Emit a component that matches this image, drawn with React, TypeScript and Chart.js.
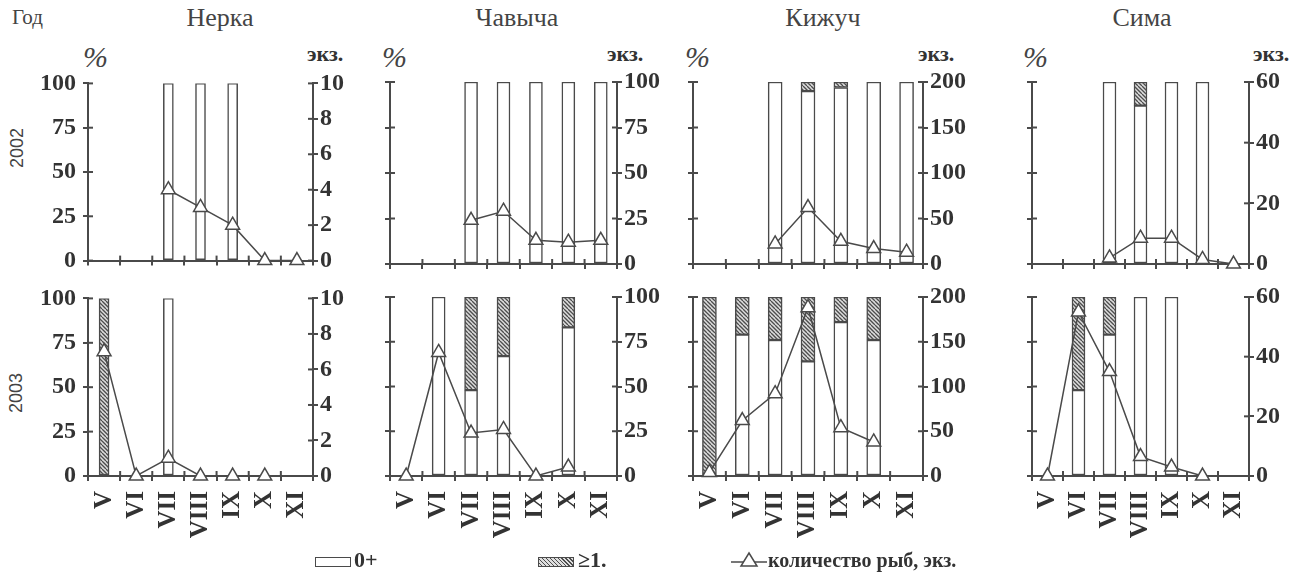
import React, { useEffect, useRef } from 'react';
import { Chart, registerables } from 'chart.js';

Chart.register(...registerables);

// ---------- data ----------
const months = ['V', 'VI', 'VII', 'VIII', 'IX', 'X', 'XI'];

const leftTicks = [0, 25, 50, 75, 100];

// Нерка
const nerka2002Young = [null, null, 100, 100, 100, null, null];
const nerka2002Old = [null, null, null, null, null, null, null];
const nerka2002Count = [null, null, 4, 3, 2, 0, 0];
const nerka2003Young = [null, null, 100, null, null, null, null];
const nerka2003Old = [100, null, null, null, null, null, null];
const nerka2003Count = [7, 0, 1, 0, 0, 0, null];

// Чавыча
const chav2002Young = [null, null, 100, 100, 100, 100, 100];
const chav2002Old = [null, null, null, null, null, null, null];
const chav2002Count = [null, null, 24, 29, 13, 12, 13];
const chav2003Young = [null, 100, 48, 67, null, 83, null];
const chav2003Old = [null, null, 52, 33, null, 17, null];
const chav2003Count = [0, 69, 24, 26, 0, 5, null];

// Кижуч
const kiz2002Young = [null, null, 100, 95, 97, 100, 100];
const kiz2002Old = [null, null, null, 5, 3, null, null];
const kiz2002Count = [null, null, 22, 62, 25, 17, 13];
const kiz2003Young = [null, 79, 76, 64, 86, 76, null];
const kiz2003Old = [100, 21, 24, 36, 14, 24, null];
const kiz2003Count = [4, 62, 92, 188, 54, 38, null];

// Сима
const sima2002Young = [null, null, 100, 87, 100, 100, null];
const sima2002Old = [null, null, null, 13, null, null, null];
const sima2002Count = [null, null, 2, 8.5, 8.5, 1.5, 0];
const sima2003Young = [null, 48, 79, 100, 100, null, null];
const sima2003Old = [null, 52, 21, null, null, null, null];
const sima2003Count = [0, 55, 35, 6.5, 3, 0, null];

const speciesNames = ['Нерка', 'Чавыча', 'Кижуч', 'Сима'];
const countMax = [10, 100, 200, 60];
const countStep = [2, 25, 50, 20];
const yearLabels = ['2002', '2003'];

// ---------- layout / style ----------
const AXIS = '#4a4a4a';
const TEXT = '#333';
const SERIF = '"Liberation Serif", "Times New Roman", serif';
const SANS = '"Liberation Sans", Arial, sans-serif';

const panelX = [
  { lx: 88, rx: 313, bar: 10 },
  { lx: 390, rx: 617, bar: 13 },
  { lx: 693, rx: 923, bar: 14 },
  { lx: 1032, rx: 1249, bar: 13 },
];
const rowY = [
  { top: 82, bottom: 264, xh: 18 },
  { top: 297, bottom: 476, xh: 69 },
];
const LEFT_W = 70;
const RIGHT_W = 60;
const PAD_TOP = 20;

const series = [
  [
    [nerka2002Young, nerka2002Old, nerka2002Count],
    [nerka2003Young, nerka2003Old, nerka2003Count],
  ],
  [
    [chav2002Young, chav2002Old, chav2002Count],
    [chav2003Young, chav2003Old, chav2003Count],
  ],
  [
    [kiz2002Young, kiz2002Old, kiz2002Count],
    [kiz2003Young, kiz2003Old, kiz2003Count],
  ],
  [
    [sima2002Young, sima2002Old, sima2002Count],
    [sima2003Young, sima2003Old, sima2003Count],
  ],
];

function makeHatch(): CanvasPattern | string {
  const c = document.createElement('canvas');
  c.width = 8;
  c.height = 8;
  const g = c.getContext('2d');
  if (!g) return '#999';
  g.fillStyle = '#dedede';
  g.fillRect(0, 0, 8, 8);
  g.strokeStyle = '#4d4d4d';
  g.lineWidth = 1.3;
  for (const o of [-8, -4, 0, 4, 8]) {
    g.beginPath();
    g.moveTo(o, 0);
    g.lineTo(o + 8, 8);
    g.stroke();
  }
  const p = g.createPattern(c, 'repeat');
  return p || '#999';
}

const innerTicks = {
  id: 'innerTicks',
  afterDatasetsDraw(chart: any) {
    const { ctx, chartArea: a, scales } = chart;
    const len = 5;
    ctx.save();
    ctx.strokeStyle = AXIS;
    ctx.lineWidth = 2;
    const seg = (x1: number, y1: number, x2: number, y2: number) => {
      ctx.beginPath();
      ctx.moveTo(x1, y1);
      ctx.lineTo(x2, y2);
      ctx.stroke();
    };
    const y = scales.y;
    y.ticks.forEach((t: any) => {
      const py = y.getPixelForValue(t.value);
      seg(a.left, py, a.left + len, py);
    });
    const y1 = scales.y1;
    y1.ticks.forEach((t: any) => {
      const py = y1.getPixelForValue(t.value);
      seg(a.right - len, py, a.right, py);
    });
    const x = scales.x;
    for (let i = 0; i <= months.length; i++) {
      const px = x.getPixelForValue(i - 0.5);
      seg(px, a.bottom - len, px, a.bottom);
    }
    ctx.restore();
  },
};

function PanelChart({ p, r }: { p: number; r: number }) {
  const ref = useRef<HTMLCanvasElement | null>(null);
  const px = panelX[p];
  const ry = rowY[r];
  const left = px.lx - LEFT_W;
  const width = px.rx - px.lx + LEFT_W + RIGHT_W;
  const top = ry.top - PAD_TOP;
  const height = ry.bottom + ry.xh - top;

  useEffect(() => {
    if (!ref.current) return;
    const [young, old, count] = series[p][r];
    const hatch = makeHatch();
    const chart = new Chart(ref.current, {
      type: 'bar',
      data: {
        labels: months,
        datasets: [
          {
            type: 'bar',
            label: '0+',
            data: young as any,
            backgroundColor: '#ffffff',
            borderColor: AXIS,
            borderWidth: 1.5,
            borderSkipped: false,
            barThickness: px.bar,
            yAxisID: 'y',
            stack: 's',
            order: 1,
          },
          {
            type: 'bar',
            label: '≥1',
            data: old as any,
            backgroundColor: hatch as any,
            borderColor: AXIS,
            borderWidth: 1.5,
            borderSkipped: false,
            barThickness: px.bar,
            yAxisID: 'y',
            stack: 's',
            order: 1,
          },
          {
            type: 'line',
            label: 'количество рыб, экз.',
            data: count as any,
            yAxisID: 'y1',
            borderColor: AXIS,
            borderWidth: 1.5,
            pointStyle: 'triangle',
            pointRadius: 8,
            pointBackgroundColor: '#ffffff',
            pointBorderColor: AXIS,
            pointBorderWidth: 1.5,
            spanGaps: false,
            clip: false as any,
            order: 0,
          } as any,
        ],
      },
      options: {
        responsive: false,
        animation: false,
        events: [],
        layout: { padding: { top: PAD_TOP, left: 0, right: 0, bottom: 0 } },
        plugins: { legend: { display: false }, tooltip: { enabled: false } },
        scales: {
          x: {
            stacked: true,
            offset: true,
            grid: {
              display: true,
              offset: true,
              drawOnChartArea: false,
              drawTicks: true,
              tickLength: 5,
              color: AXIS,
              lineWidth: 2,
            },
            border: { display: true, color: AXIS, width: 2 },
            ticks: {
              display: r === 1,
              autoSkip: false,
              minRotation: 90,
              maxRotation: 90,
              padding: 10,
              color: TEXT,
              font: { family: SERIF, size: 25, weight: 'bold' },
            },
            afterFit: (s: any) => {
              s.height = ry.xh;
            },
          },
          y: {
            position: 'left',
            stacked: true,
            min: 0,
            max: 100,
            afterBuildTicks: (s: any) => {
              s.ticks = leftTicks.map((v) => ({ value: v }));
            },
            ticks: {
              display: p === 0,
              stepSize: 25,
              padding: 7,
              color: TEXT,
              font: { family: SERIF, size: 24, weight: 'bold' },
            },
            grid: {
              drawOnChartArea: false,
              drawTicks: true,
              tickLength: 5,
              color: AXIS,
              lineWidth: 2,
            },
            border: { display: true, color: AXIS, width: 2 },
            afterFit: (s: any) => {
              s.width = LEFT_W;
            },
          },
          y1: {
            position: 'right',
            stacked: false,
            min: 0,
            max: countMax[p],
            ticks: {
              stepSize: countStep[p],
              padding: 2,
              color: TEXT,
              font: { family: SERIF, size: 24, weight: 'bold' },
            },
            grid: {
              drawOnChartArea: false,
              drawTicks: true,
              tickLength: 5,
              color: AXIS,
              lineWidth: 2,
            },
            border: { display: true, color: AXIS, width: 2 },
            afterFit: (s: any) => {
              s.width = RIGHT_W;
            },
          },
        },
      } as any,
      plugins: [innerTicks],
    });
    return () => chart.destroy();
  }, [p, r]);

  return (
    <canvas
      ref={ref}
      width={width}
      height={height}
      style={{ position: 'absolute', left, top, width, height }}
    />
  );
}

function Txt({
  x,
  y,
  size,
  children,
  family = SERIF,
  weight = 'normal',
  italic = false,
  center = false,
  color = TEXT,
}: any) {
  // y is the text baseline
  const top = y - 0.8375 * size;
  return (
    <div
      style={{
        position: 'absolute',
        left: x,
        top,
        fontFamily: family,
        fontSize: size,
        lineHeight: `${size}px`,
        fontWeight: weight,
        fontStyle: italic ? 'italic' : 'normal',
        color,
        whiteSpace: 'nowrap',
        transform: center ? 'translateX(-50%)' : undefined,
      }}
    >
      {children}
    </div>
  );
}

const titleCenters = [220, 517, 823, 1142];
const percentX = [83, 382, 685, 1023];
const unitX = [307, 607, 918, 1253];
const yearCenters = [
  { x: 17, y: 148 },
  { x: 16, y: 393 },
];

export default function App() {
  useEffect(() => {
    document.body.style.margin = '0';
  }, []);
  return (
    <div
      style={{
        position: 'absolute',
        left: 0,
        top: 0,
        width: 1300,
        height: 578,
        background: '#fff',
        overflow: 'hidden',
      }}
    >
      <Txt x={12} y={25} size={21} color="#444">
        Год
      </Txt>
      {speciesNames.map((n, i) => (
        <Txt key={n} x={titleCenters[i]} y={27} size={26} center color="#444">
          {n}
        </Txt>
      ))}
      {percentX.map((x, i) => (
        <Txt key={'pc' + i} x={x} y={67} size={30} italic color="#444">
          %
        </Txt>
      ))}
      {unitX.map((x, i) => (
        <Txt key={'u' + i} x={x} y={61} size={22} weight="bold">
          экз.
        </Txt>
      ))}
      {yearLabels.map((yl, i) => (
        <div
          key={yl}
          style={{
            position: 'absolute',
            left: yearCenters[i].x,
            top: yearCenters[i].y,
            transform: 'translate(-50%, -50%) rotate(-90deg)',
            fontFamily: SANS,
            fontSize: 18,
            lineHeight: '18px',
            color: '#444',
          }}
        >
          {yl}
        </div>
      ))}
      {[0, 1].map((r) =>
        [0, 1, 2, 3].map((p) => <PanelChart key={`${p}-${r}`} p={p} r={r} />)
      )}
      {/* legend */}
      <div
        style={{
          position: 'absolute',
          left: 315,
          top: 557,
          width: 34,
          height: 8,
          border: `1.5px solid ${AXIS}`,
          background: '#fff',
        }}
      />
      <Txt x={354} y={567} size={22} weight="bold">
        0+
      </Txt>
      <div
        style={{
          position: 'absolute',
          left: 538,
          top: 557,
          width: 34,
          height: 8,
          border: `1.5px solid ${AXIS}`,
          background:
            'repeating-linear-gradient(45deg, #dedede 0px, #dedede 1.6px, #4d4d4d 1.6px, #4d4d4d 2.8px)',
        }}
      />
      <Txt x={578} y={567} size={22} weight="bold">
        ≥1.
      </Txt>
      <svg
        style={{ position: 'absolute', left: 731, top: 549 }}
        width={36}
        height={22}
      >
        <line x1={0} y1={13} x2={36} y2={13} stroke={AXIS} strokeWidth={1.5} />
        <polygon
          points="18,4 26,17 10,17"
          fill="#fff"
          stroke={AXIS}
          strokeWidth={1.5}
        />
      </svg>
      <Txt x={768} y={567} size={20} weight="bold">
        количество рыб, экз.
      </Txt>
    </div>
  );
}
